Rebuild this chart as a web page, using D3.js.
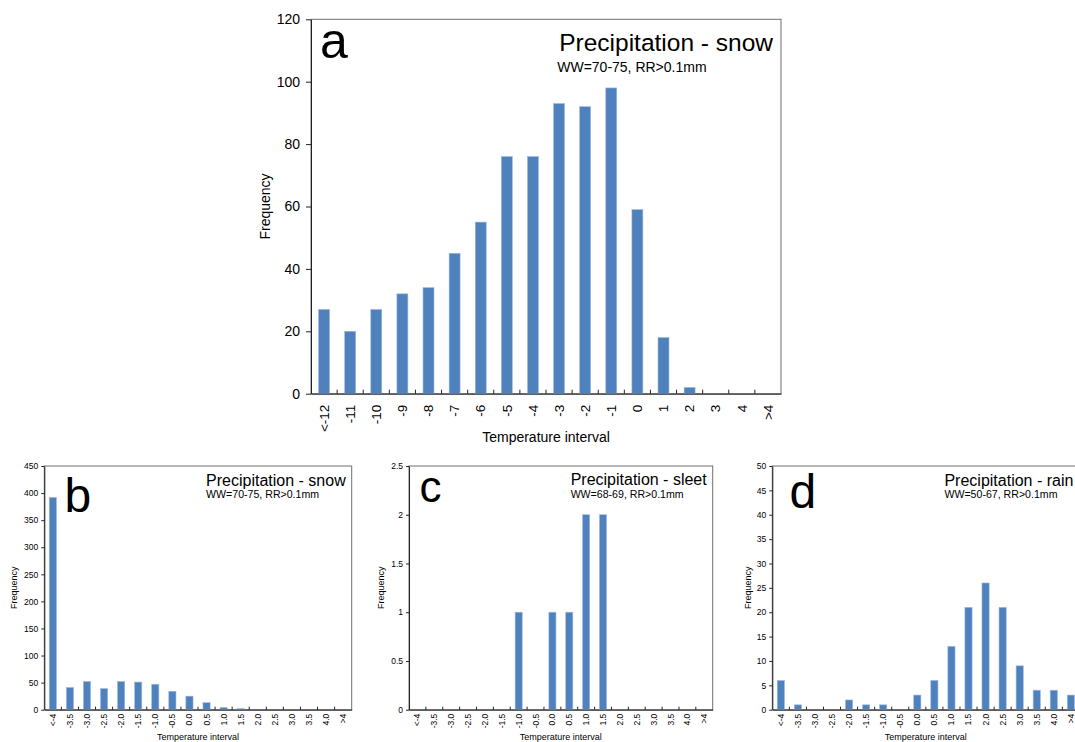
<!DOCTYPE html>
<html>
<head>
<meta charset="utf-8">
<script src="https://cdn.jsdelivr.net/npm/d3@7"></script>
<style>
  body { margin: 0; background: #fff; }
  svg { display: block; font-family: "Liberation Sans", Arial, sans-serif; }
</style>
</head>
<body>
<svg id="chart" width="1075" height="742"></svg>
<script>
// Temperature interval categories
const coarseIntervals = ["<-12", "-11", "-10", "-9", "-8", "-7", "-6", "-5", "-4", "-3", "-2", "-1", "0", "1", "2", "3", "4", ">4"];
const fineIntervals = ["<-4", "-3.5", "-3.0", "-2.5", "-2.0", "-1.5", "-1.0", "-0.5", "0.0", "0.5", "1.0", "1.5", "2.0", "2.5", "3.0", "3.5", "4.0", ">4"];

// Frequencies per interval
const snowCoarse = [27, 20, 27, 32, 34, 45, 55, 76, 76, 93, 92, 98, 59, 18, 2, 0, 0, 0];
const snowFine = [392, 41, 52, 39, 52, 51, 47, 34, 25, 13, 4, 2, 0, 0, 0, 0, 0, 0];
const sleetFine = [0, 0, 0, 0, 0, 0, 1, 0, 1, 1, 2, 2, 0, 0, 0, 0, 0, 0];
const rainFine = [6, 1, 0, 0, 2, 1, 1, 0, 3, 6, 13, 21, 26, 21, 9, 4, 4, 3];

// Y axis tick values
const ticksA = [0, 20, 40, 60, 80, 100, 120];
const ticksB = [0, 50, 100, 150, 200, 250, 300, 350, 400, 450];
const ticksC = [0, 0.5, 1, 1.5, 2, 2.5];
const ticksD = [0, 5, 10, 15, 20, 25, 30, 35, 40, 45, 50];

// Panel texts
const panelLetters = ["a", "b", "c", "d"];
const panelTitles = ["Precipitation - snow", "Precipitation - snow", "Precipitation - sleet", "Precipitation - rain"];
const panelSubtitles = ["WW=70-75, RR>0.1mm", "WW=70-75, RR>0.1mm", "WW=68-69, RR>0.1mm", "WW=50-67, RR>0.1mm"];
const xTitle = "Temperature interval";
const yTitle = "Frequency";

const svg = d3.select("#chart");
const BAR = "#4f81bd";

function drawPanel(p) {
  const g = svg.append("g");
  const x = d3.scaleBand().domain(p.cats).range([p.left, p.right])
    .paddingInner(0.58).paddingOuter(0.29);
  const y = d3.scaleLinear().domain([0, d3.max(p.ticks)]).range([p.bottom, p.top]);
  const step = x.step();
  const bw = x.bandwidth();

  // frame
  g.append("rect")
    .attr("x", p.left).attr("y", p.top)
    .attr("width", p.right - p.left).attr("height", p.bottom - p.top)
    .attr("fill", "none").attr("stroke", "#6e6e6e").attr("stroke-width", 1);

  // bars
  const rows = p.cats.map((c, i) => ({ c, v: p.values[i] })).filter(d => d.v > 0);
  g.selectAll("rect.bar").data(rows).enter().append("rect")
    .attr("class", "bar")
    .attr("x", d => x(d.c))
    .attr("y", d => y(d.v))
    .attr("width", bw)
    .attr("height", d => y(0) - y(d.v))
    .attr("fill", BAR)
    .attr("stroke", "#9db8dc").attr("stroke-width", 0.6);

  // y axis
  const ya = g.append("g").attr("transform", `translate(${p.left},0)`)
    .call(d3.axisLeft(y).tickValues(p.ticks).tickFormat(d => String(d))
      .tickSize(p.ytick).tickSizeOuter(0).tickPadding(p.ypad));
  ya.select(".domain").attr("stroke", "#222");
  ya.selectAll(".tick line").attr("stroke", "#222");
  ya.selectAll("text").attr("font-size", p.tickFont).attr("fill", "#000")
    .attr("font-family", "Liberation Sans, Arial, sans-serif");

  // x axis with rotated labels
  const xa = g.append("g").attr("transform", `translate(0,${p.bottom})`)
    .call(d3.axisBottom(x).tickSize(0).tickSizeOuter(0));
  xa.select(".domain").attr("stroke", "#222");
  xa.selectAll("text")
    .attr("font-size", p.xTickFont).attr("fill", "#000")
    .attr("font-family", "Liberation Sans, Arial, sans-serif")
    .attr("transform", "rotate(-90)")
    .attr("text-anchor", "end")
    .attr("x", -p.xgap).attr("y", 0).attr("dy", "0.35em");

  // inner tick marks between categories
  g.selectAll("line.sep").data(p.cats.slice(0, -1)).enter().append("line")
    .attr("x1", c => x(c) + bw / 2 + step / 2)
    .attr("x2", c => x(c) + bw / 2 + step / 2)
    .attr("y1", p.bottom).attr("y2", p.bottom - p.xtick)
    .attr("stroke", "#222").attr("stroke-width", 1);

  // axis titles
  g.append("text")
    .attr("transform", `translate(${p.yTitleX},${(p.top + p.bottom) / 2}) rotate(-90)`)
    .attr("text-anchor", "middle").attr("dy", "0.35em")
    .attr("font-size", p.axisFont).text(yTitle);
  g.append("text")
    .attr("x", (p.left + p.right) / 2).attr("y", p.xTitleY)
    .attr("text-anchor", "middle")
    .attr("font-size", p.axisFont).text(xTitle);

  // panel letter
  g.append("text").attr("x", p.letterX).attr("y", p.letterY)
    .attr("font-size", p.letterFont).text(p.letter);

  // title and subtitle, left-aligned to the title's start
  const t = g.append("text").attr("x", p.right - p.titleInset).attr("y", p.titleY)
    .attr("text-anchor", "end").attr("font-size", p.titleFont).text(p.title);
  const tx = p.right - p.titleInset - t.node().getComputedTextLength() - p.subShift;
  g.append("text").attr("x", tx).attr("y", p.subY)
    .attr("font-size", p.subFont).text(p.sub);
}

const big = { tickFont: 14, xTickFont: 13.5, axisFont: 14, ytick: 5, ypad: 6, xtick: 4, xgap: 11,
  titleFont: 24.5, subFont: 14, letterFont: 50, titleInset: 8, subShift: 2 };
const small = { tickFont: 8.5, xTickFont: 8.5, axisFont: 9, ytick: 3, ypad: 3, xtick: 3, xgap: 4,
  titleFont: 16, subFont: 10.6, letterFont: 48, titleInset: 6, subShift: 0 };

drawPanel(Object.assign({}, big, {
  cats: coarseIntervals, values: snowCoarse, ticks: ticksA,
  left: 311, right: 781, top: 19.3, bottom: 393.7,
  yTitleX: 265, xTitleY: 442, letterX: 320, letterY: 57.5,
  titleY: 51, subY: 71.5,
  letter: panelLetters[0], title: panelTitles[0], sub: panelSubtitles[0]
}));

drawPanel(Object.assign({}, small, {
  cats: fineIntervals, values: snowFine, ticks: ticksB,
  left: 44.3, right: 351.7, top: 466, bottom: 709.7,
  yTitleX: 14.3, xTitleY: 739.5, letterX: 64.5, letterY: 511.5,
  titleY: 485.7, subY: 498.3,
  letter: panelLetters[1], title: panelTitles[1], sub: panelSubtitles[1]
}));

drawPanel(Object.assign({}, small, {
  cats: fineIntervals, values: sleetFine, ticks: ticksC,
  left: 409, right: 712.7, top: 466, bottom: 709.7,
  yTitleX: 380.7, xTitleY: 739.5, letterX: 419.5, letterY: 501.5, letterFont: 44,
  titleY: 485, subY: 497.8,
  letter: panelLetters[2], title: panelTitles[2], sub: panelSubtitles[2]
}));

drawPanel(Object.assign({}, small, {
  cats: fineIntervals, values: rainFine, ticks: ticksD,
  left: 772.3, right: 1079.4, top: 466, bottom: 709.7,
  yTitleX: 748.3, xTitleY: 739.5, letterX: 789.5, letterY: 507.5,
  titleY: 485.7, subY: 498.3,
  letter: panelLetters[3], title: panelTitles[3], sub: panelSubtitles[3]
}));
</script>
</body>
</html>
